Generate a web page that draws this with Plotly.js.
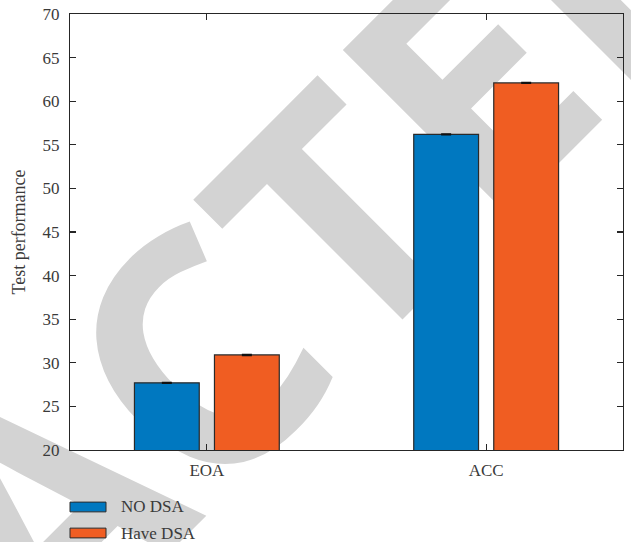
<!DOCTYPE html>
<html>
<head>
<meta charset="utf-8">
<script src="https://cdn.plot.ly/plotly-3.0.1.min.js"></script>
<style>
  html, body { margin: 0; padding: 0; background: #ffffff; }
  #wrap { position: relative; width: 631px; height: 542px; overflow: hidden; }
  #stamp { position: absolute; left: 0; top: 0; z-index: 0; }
  #chart { position: absolute; left: 0; top: 0; width: 631px; height: 542px; z-index: 1; }
</style>
</head>
<body>
<div id="wrap">
  <svg id="stamp" width="631" height="542" xmlns="http://www.w3.org/2000/svg">
    <g transform="rotate(-45 353.2 368.8)" font-family="Open Sans, Liberation Sans, sans-serif"
       font-weight="700" font-size="326" fill="#d3d3d3">
      <text x="353.2" y="368.8" text-anchor="end">RETRAC</text>
      <text x="353.2" y="368.8" text-anchor="start">TED</text>
    </g>
  </svg>
  <div id="chart"></div>
</div>
<script>
// Test performance with and without DSA
const categories = ['EOA', 'ACC'];
const seriesNames = ['NO DSA', 'Have DSA'];
const noDsa = [27.7, 56.2];
const haveDsa = [30.9, 62.1];
const noDsaErr = [0.05, 0.05];
const haveDsaErr = [0.05, 0.05];
const yTicks = [20, 25, 30, 35, 40, 45, 50, 55, 60, 65, 70];

const colors = ['#0078C0', '#F05D22'];
const edge = '#2a2a2a';
const textColor = '#3a3a3a';
const serif = 'Liberation Serif, Times New Roman, serif';

function barTrace(name, vals, errs, color) {
  return {
    type: 'bar',
    name: name,
    x: categories,
    y: vals,
    marker: { color: color, line: { color: edge, width: 1.2 } },
    error_y: { type: 'data', array: errs, visible: true, color: '#111', thickness: 1.5, width: 5 },
    showlegend: false,
    hoverinfo: 'x+y+name'
  };
}

const data = [
  barTrace(seriesNames[0], noDsa, noDsaErr, colors[0]),
  barTrace(seriesNames[1], haveDsa, haveDsaErr, colors[1])
];

// Legend drawn underneath the axes: swatch + label per series
const legendRows = [-0.1307, -0.1904];
const shapes = [];
const annotations = [];
seriesNames.forEach(function (name, i) {
  const yc = legendRows[i];
  shapes.push({
    type: 'rect', xref: 'paper', yref: 'paper',
    x0: 0.0, x1: 0.0651, y0: yc - 0.0112, y1: yc + 0.0112,
    fillcolor: colors[i], line: { color: edge, width: 1 }
  });
  annotations.push({
    xref: 'paper', yref: 'paper', x: 0.089, y: yc,
    xanchor: 'left', yanchor: 'middle', showarrow: false,
    text: name, font: { family: serif, size: 17, color: textColor }
  });
});

const axisCommon = {
  showline: true, linecolor: '#262626', linewidth: 1.2, mirror: 'ticks',
  ticks: 'inside', ticklen: 6, tickwidth: 1.2, tickcolor: '#262626',
  showgrid: false, zeroline: false,
  tickfont: { family: serif, size: 17, color: textColor }
};

const layout = {
  width: 631, height: 542,
  margin: { l: 70, r: 8, t: 14, b: 92 },
  paper_bgcolor: 'rgba(0,0,0,0)',
  plot_bgcolor: 'rgba(0,0,0,0)',
  barmode: 'group',
  bargap: 0.427,
  bargroupgap: 0.19,
  xaxis: Object.assign({}, axisCommon, {
    type: 'category', range: [-0.49, 1.49], ticklabelstandoff: 4
  }),
  yaxis: Object.assign({}, axisCommon, {
    range: [20, 70], tickvals: yTicks, ticklabelstandoff: 6,
    title: { text: 'Test performance', font: { family: serif, size: 18, color: textColor }, standoff: 12 }
  }),
  shapes: shapes,
  annotations: annotations
};

Plotly.newPlot('chart', data, layout, { displayModeBar: false, staticPlot: true });
</script>
</body>
</html>
